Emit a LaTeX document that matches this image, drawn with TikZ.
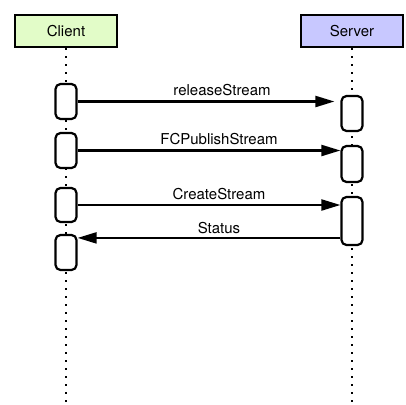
\documentclass[tikz,border=0pt]{standalone}
\usepackage{fontspec}
\setmainfont{TeX Gyre Heros}
\usetikzlibrary{arrows.meta}
\definecolor{clientgreen}{RGB}{226,252,200}
\definecolor{serverblue}{RGB}{200,200,255}

\begin{document}
\begin{tikzpicture}[x=1pt,y=-1pt,
  head/.style={draw,line width=2pt,minimum width=102pt,minimum height=32pt,font=\fontsize{15}{17}\selectfont},
  act/.style={draw,fill=white,line width=2.2pt,rounded corners=5pt,minimum width=21pt,inner sep=0pt},
  life/.style={line width=2pt,dash pattern=on 2pt off 6pt},
  msg/.style={line width=2.2pt,-{Triangle[length=19pt,width=11pt]}},
  lbl/.style={font=\fontsize{15}{17}\selectfont,anchor=base,yshift=6pt,xshift=10pt}]
  \useasboundingbox (0,0) rectangle (406,404);
  \node[head,fill=clientgreen] (client) at (66,31) {Client};
  \node[head,fill=serverblue] (server) at (352,31) {Server};
  \coordinate (cend) at (66,404);
  \coordinate (send) at (352,404);
  \draw[life] (client.south) -- (cend);
  \draw[life] (server.south) -- (send);
  \node[act,minimum height=35pt] (c1) at (66,101.5) {};
  \node[act,minimum height=35pt] (c2) at (66,150.5) {};
  \node[act,minimum height=34pt] (c3) at (66,205) {};
  \node[act,minimum height=35pt] (c4) at (66,252.5) {};
  \node[act,minimum height=35pt] (s1) at (352,113.5) {};
  \node[act,minimum height=36pt] (s2) at (352,164) {};
  \node[act,minimum height=48pt] (s3) at (352,221) {};
  \draw[msg,shorten >=6pt] (c1.east) -- node[lbl,xshift=3pt] {releaseStream} (c1.east -| s1.west);
  \draw[msg] (c2.east) -- node[lbl] {FCPublishStream} (c2.east -| s2.west);
  \draw[msg] (c3.east) -- node[lbl] {CreateStream} (c3.east -| s3.west);
  \draw[msg] ([yshift=-4pt]c4.north east -| s3.west) -- node[lbl,yshift=-2pt] {Status} ([yshift=-4pt]c4.north east);
\end{tikzpicture}
\end{document}
